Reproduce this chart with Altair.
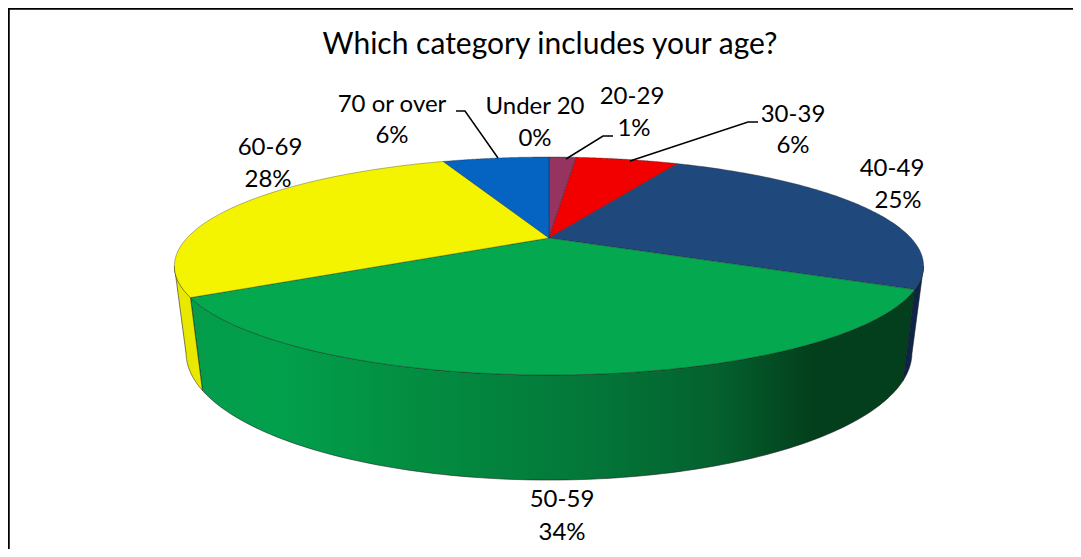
import math
import altair as alt

# ---- values ----
categories = ["Under 20", "20-29", "30-39", "40-49", "50-59", "60-69", "70 or over"]
shares = [0.0, 1.5, 5.7, 25.2, 34.1, 27.6, 5.9]
percent_labels = ["0%", "1%", "6%", "25%", "34%", "28%", "6%"]
top_colors = ["#4f81bd", "#953361", "#f20000", "#1f497d", "#04a84f", "#f4f400", "#0563c1"]

# ---- layout (page pixels; the chart origin is at 8,8) ----
W, H = 1065, 541
OX, OY = 8, 8
CX, CY = 549, 238        # where the pie's centre lands
R, S, K = 362.0, 101.8, 0.257   # perspective of the top disc
DEPTH, SHRINK = 85.3, 0.03      # perspective of the bottom disc
title_text = "Which category includes your age?"
label_pos = {
    "Under 20": (535, 105, 535, 137),
    "20-29": (632, 95, 634, 127),
    "30-39": (793, 113, 793, 144),
    "40-49": (892, 167, 898, 199),
    "50-59": (562, 498, 562, 531),
    "60-69": (270, 146, 268, 178),
    "70 or over": (392, 103, 392, 134),
}
leaders = [
    [(498, 158), (465, 111), (456, 111)],
    [(566, 159), (603, 136), (613, 136)],
    [(630, 161), (748, 122), (758, 122)],
]


def top_pt(a):
    u, v = math.sin(a), math.cos(a)
    w = 1 + K * v
    return (CX + R * u / w - OX, CY - S * v / w - OY)


def bottom_pt(a):
    u, v = math.sin(a), math.cos(a)
    w = 1 + K * v + SHRINK
    return (CX + R * u / w - OX, CY - (S * v - DEPTH) / w - OY)


def arc(fn, a0, a1, n=120):
    return [fn(a0 + (a1 - a0) * i / n) for i in range(n + 1)]


def feature(pts, cat):
    return {"type": "Feature", "properties": {"cat": cat},
            "geometry": {"type": "Polygon", "coordinates": [[list(p) for p in pts] + [list(pts[0])]]}}


edges = [0.0]
for s in shares:
    edges.append(edges[-1] + s / 100 * 2 * math.pi)
edges[-1] = 2 * math.pi

tangent = math.asin(K)                       # where the rim turns out of sight
vis0, vis1 = math.pi / 2 + tangent, 3 * math.pi / 2 - tangent

top_features, wall_features = [], []
for cat, a0, a1 in zip(categories, edges[:-1], edges[1:]):
    if a1 > a0:
        top_features.append(feature([(CX - OX, CY - OY)] + arc(top_pt, a0, a1), cat))
    b0, b1 = max(a0, vis0), min(a1, vis1)
    if b1 > b0:
        wall_features.append(feature(arc(top_pt, b0, b1) + arc(bottom_pt, b1, b0), cat))

proj = alt.Projection(type="identity")
frame_feature = feature([(0, 0), (W, 0), (W, H), (0, H)], "frame")


def geo(features):
    return alt.Data(values=features)


frame = alt.Chart(geo([frame_feature])).mark_geoshape(fill="#ffffff", strokeWidth=0, stroke="#ffffff").encode().properties(projection=proj)

green_gradient = alt.LinearGradient(
    gradient="linear", x1=0, x2=1, y1=0, y2=0,
    stops=[
        alt.GradientStop(offset=0.0, color="#039c4b"),
        alt.GradientStop(offset=0.12, color="#02a04c"),
        alt.GradientStop(offset=0.29, color="#038f42"),
        alt.GradientStop(offset=0.52, color="#037a3a"),
        alt.GradientStop(offset=0.72, color="#04622f"),
        alt.GradientStop(offset=0.86, color="#033f1c"),
        alt.GradientStop(offset=1.0, color="#033f1c"),
    ],
)

wall_styles = {"40-49": "#0e2549", "50-59": green_gradient, "60-69": "#e8e800"}
wall_layers = [
    alt.Chart(geo([f])).mark_geoshape(
        fill=wall_styles[f["properties"]["cat"]], stroke="#1a1a1a", strokeWidth=0.7, strokeOpacity=0.8
    ).encode().properties(projection=proj)
    for f in wall_features
]

top = alt.Chart(geo(top_features)).mark_geoshape(
    stroke="#1a1a1a", strokeWidth=0.6, strokeOpacity=0.55
).encode(
    color=alt.Color("properties.cat:N", legend=None,
                    scale=alt.Scale(domain=categories, range=top_colors))
).properties(projection=proj)

xs = alt.X("x:Q", axis=None, scale=alt.Scale(domain=[0, W], range=[0, W]))
ys = alt.Y("y:Q", axis=None, scale=alt.Scale(domain=[0, H], range=[0, H]))

lead_rows = []
for i, pts in enumerate(leaders):
    for j, (x, y) in enumerate(pts):
        lead_rows.append({"x": x - OX, "y": y - OY, "g": i, "o": j})
lead = alt.Chart(alt.Data(values=lead_rows)).mark_line(color="#000000", strokeWidth=1.5).encode(
    x=xs, y=ys, detail="g:N", order="o:Q")

text_rows = []
for cat, pct in zip(categories, percent_labels):
    x1, y1, x2, y2 = label_pos[cat]
    text_rows.append({"x": x1 - OX, "y": y1 - OY, "t": cat})
    text_rows.append({"x": x2 - OX, "y": y2 - OY, "t": pct})
labels = alt.Chart(alt.Data(values=text_rows)).mark_text(
    font="Lato", fontSize=24, color="#000000", align="center", baseline="middle", dy=2
).encode(x=xs, y=ys, text="t:N")

title = alt.Chart(alt.Data(values=[{"x": 550 - OX, "y": 43 - OY, "t": title_text}])).mark_text(
    font="Lato", fontSize=30, color="#000000", align="center", baseline="middle", dy=2
).encode(x=xs, y=ys, text="t:N")

border_rows = [{"x": 0.5, "y": H, "o": 0}, {"x": 0.5, "y": 0.5, "o": 1}, {"x": W, "y": 0.5, "o": 2}]
border = alt.Chart(alt.Data(values=border_rows)).mark_line(color="#000000", strokeWidth=2.5).encode(
    x=xs, y=ys, order="o:Q")

chart = alt.layer(frame, *wall_layers, top, border, lead, labels, title).resolve_scale(
    color="independent"
).properties(
    width=W, height=H, padding=0, autosize=alt.AutoSizeParams(type="none")
).configure_view(stroke=None)

chart.save("out.html", embed_options={"renderer": "svg", "actions": False})
